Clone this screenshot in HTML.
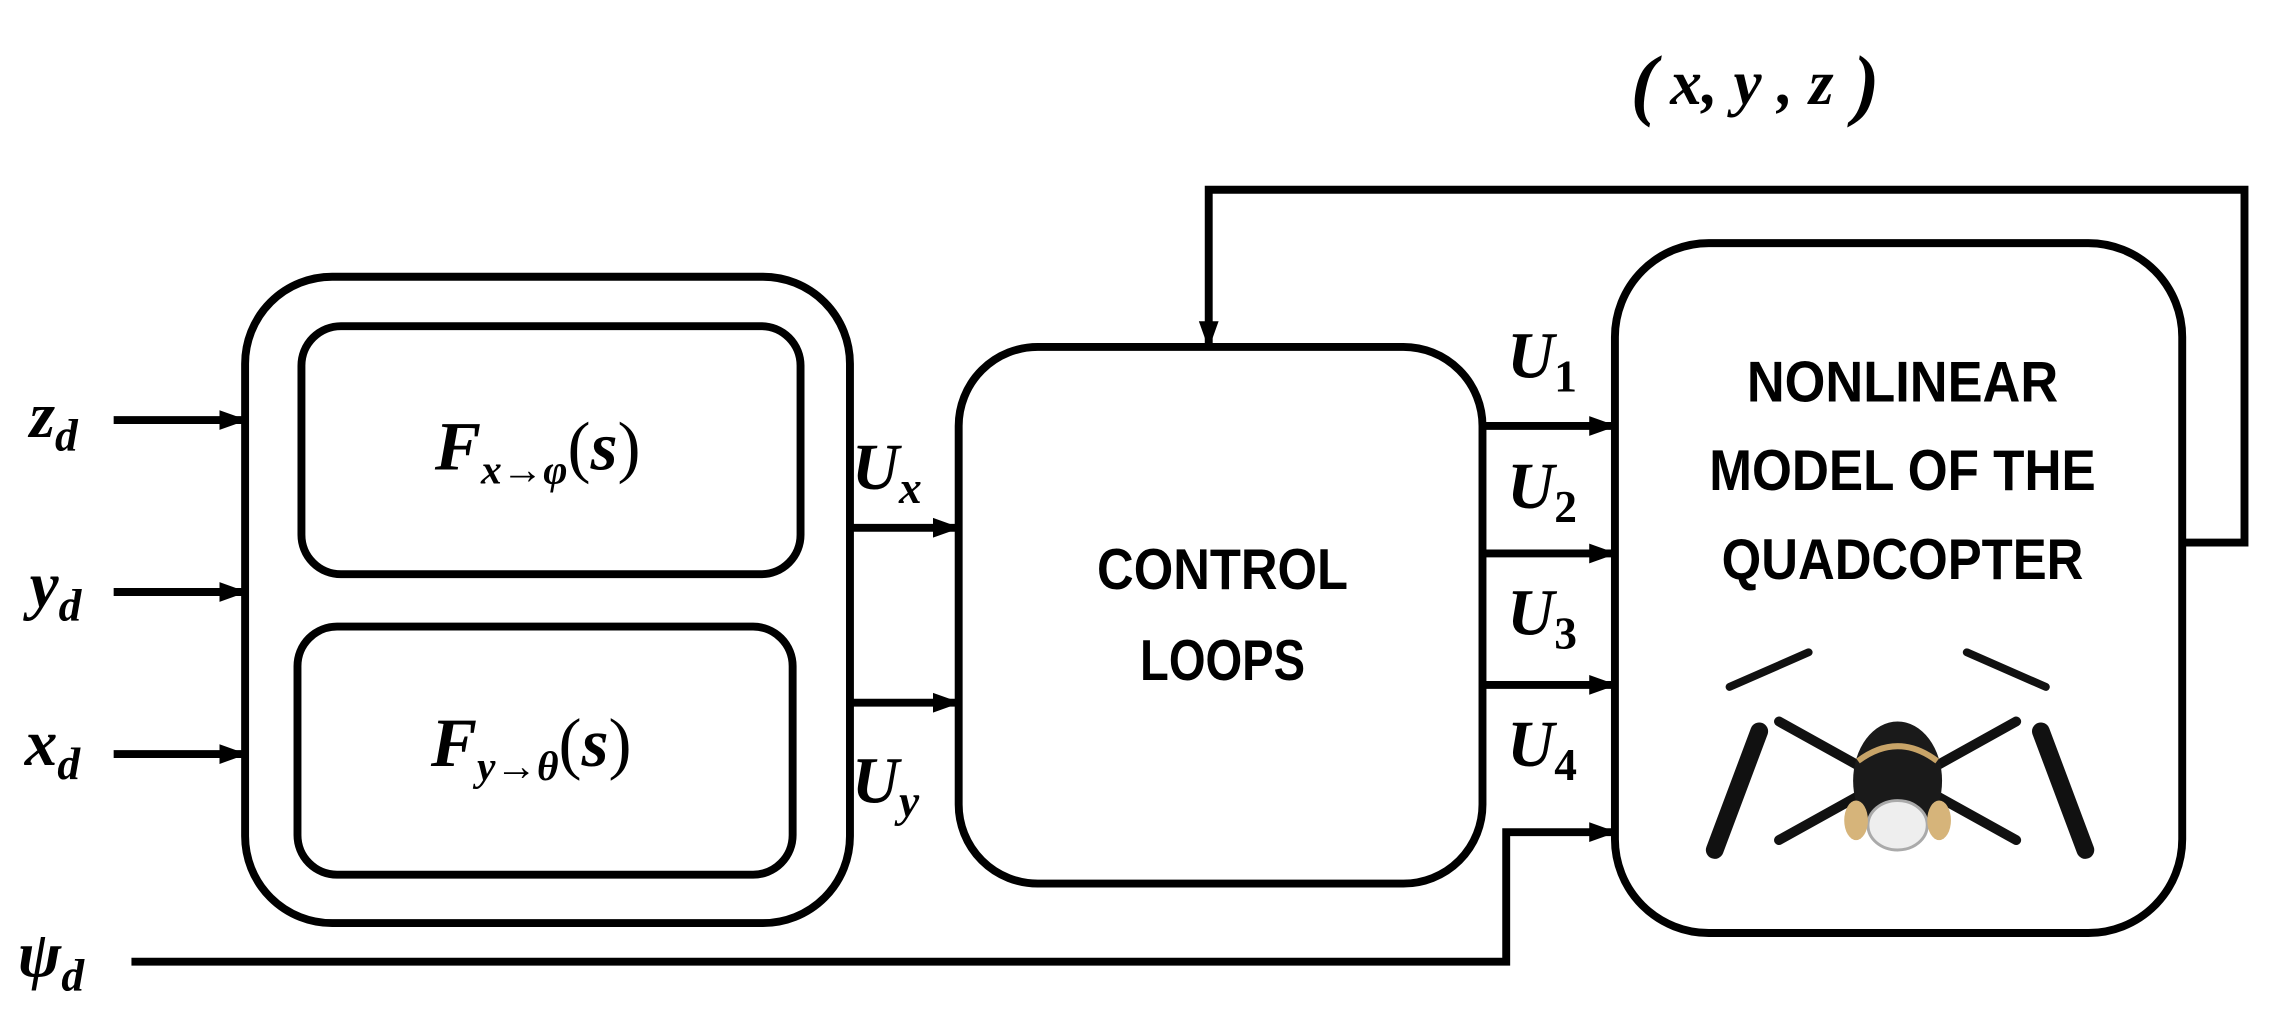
<!DOCTYPE html>
<html><head><meta charset="utf-8"><style>
body{margin:0;background:#fff}
svg text{font-family:"Liberation Serif",serif;font-weight:bold;font-style:italic;fill:#000}
.s{font-family:"Liberation Sans",sans-serif;font-style:normal;font-weight:bold;font-size:58px;text-anchor:middle}
</style></head><body>
<svg width="2286" height="1017" viewBox="0 0 2313 1029" xmlns="http://www.w3.org/2000/svg">
<defs>
<marker id="ah" markerWidth="28" markerHeight="26" refX="26" refY="13" orient="auto" markerUnits="userSpaceOnUse"><path d="M0,3L28,13L0,23z"/></marker></defs>
<g fill="none" stroke="#000" stroke-width="8">
<rect x="248" y="280" width="612" height="654" rx="88"/>
<rect x="305" y="330" width="505" height="251" rx="40"/>
<rect x="301" y="634" width="501" height="251" rx="40"/>
<rect x="970" y="351" width="530" height="543" rx="80"/>
<rect x="1634" y="246" width="574" height="698" rx="95"/>
<g marker-end="url(#ah)">
<path d="M115 425H248"/><path d="M115 599H248"/><path d="M115 763H248"/>
<path d="M860 534H970"/><path d="M860 711H970"/>
<path d="M1500 431H1634"/><path d="M1500 560H1634"/><path d="M1500 693H1634"/>
<path d="M133 973H1524V842H1634"/>
<path d="M2208 549H2271V192H1223V351"/>
</g></g>
<text x="1650" y="112" font-size="80" font-style="normal" font-weight="normal">(</text>
<text x="1690" y="105" font-size="64">x, y , z</text>
<text x="1875" y="112" font-size="80" font-style="normal" font-weight="normal">)</text>
<text x="30" y="442" font-size="66">z<tspan font-size="46" dy="14">d</tspan></text>
<text x="30" y="614" font-size="66">y<tspan font-size="46" dy="14">d</tspan></text>
<text x="25" y="774" font-size="66">x<tspan font-size="46" dy="14">d</tspan></text>
<text x="18" y="988" font-size="66">ψ<tspan font-size="46" dy="14">d</tspan></text>
<text x="440" y="475" font-size="70">F<tspan font-size="42" dy="14">x→φ</tspan><tspan dy="-14" font-style="normal" font-weight="normal">(</tspan>s<tspan font-style="normal" font-weight="normal">)</tspan></text>
<text x="436" y="775" font-size="70">F<tspan font-size="42" dy="14">y→θ</tspan><tspan dy="-14" font-style="normal" font-weight="normal">(</tspan>s<tspan font-style="normal" font-weight="normal">)</tspan></text>
<text x="862" y="495" font-size="66">U<tspan font-size="46" dy="14">x</tspan></text>
<text x="862" y="812" font-size="66">U<tspan font-size="46" dy="14">y</tspan></text>
<text x="1525" y="382" font-size="66">U<tspan font-size="46" dy="14" font-style="normal">1</tspan></text>
<text x="1525" y="514" font-size="66">U<tspan font-size="46" dy="14" font-style="normal">2</tspan></text>
<text x="1525" y="642" font-size="66">U<tspan font-size="46" dy="14" font-style="normal">3</tspan></text>
<text x="1525" y="775" font-size="66">U<tspan font-size="46" dy="14" font-style="normal">4</tspan></text>
<text class="s" x="1237" y="596" textLength="254" lengthAdjust="spacingAndGlyphs">CONTROL</text>
<text class="s" x="1237" y="688" textLength="167" lengthAdjust="spacingAndGlyphs">LOOPS</text>
<text class="s" x="1925" y="406" textLength="315" lengthAdjust="spacingAndGlyphs">NONLINEAR</text>
<text class="s" x="1925" y="496" textLength="391" lengthAdjust="spacingAndGlyphs">MODEL OF THE</text>
<text class="s" x="1925" y="586" textLength="366" lengthAdjust="spacingAndGlyphs">QUADCOPTER</text>
<g stroke="#111" stroke-linecap="round">
<path d="M1800 730L1890 780M2040 730L1950 780M1800 850L1890 800M2040 850L1950 800" stroke-width="10"/>
<path d="M1750 695L1830 660M1990 660L2070 695" stroke-width="8"/>
<path d="M1735 860L1780 740M2065 740L2110 860" stroke-width="18"/>
</g>
<ellipse cx="1920" cy="790" rx="45" ry="60" fill="#1a1a1a"/>
<ellipse cx="1920" cy="835" rx="30" ry="25" fill="#eee" stroke="#aaa" stroke-width="3"/>
<path d="M1880 770Q1920 740 1960 770" stroke="#c8a468" stroke-width="6" fill="none"/>
<ellipse cx="1878" cy="830" rx="12" ry="20" fill="#d6b47a"/><ellipse cx="1962" cy="830" rx="12" ry="20" fill="#d6b47a"/>
</svg>
</body></html>
